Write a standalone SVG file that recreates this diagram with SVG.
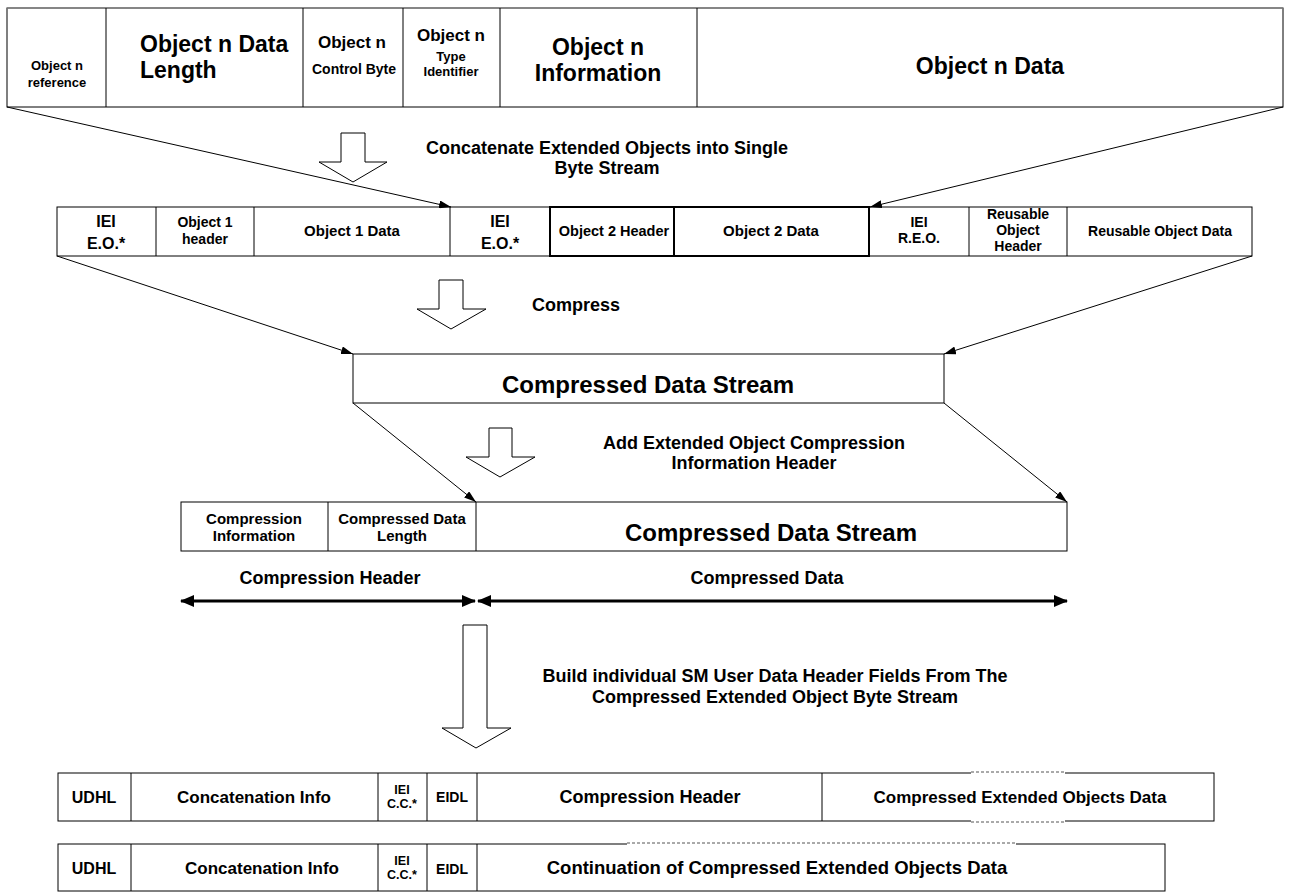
<svg xmlns="http://www.w3.org/2000/svg" width="1289" height="893" viewBox="0 0 1289 893">
<style>
text{font-family:"Liberation Sans",Arial,sans-serif;font-weight:bold;fill:#000;text-anchor:middle}
.st{text-anchor:start}
.box{fill:#fff;stroke:#000;stroke-width:1}
.thick{fill:none;stroke:#000;stroke-width:2}
.div{stroke:#000;stroke-width:1}
.conn{stroke:#000;stroke-width:1;fill:none}
.dbl{stroke:#000;stroke-width:3;fill:none}
.blk{fill:#fff;stroke:#000;stroke-width:1}
.dash{stroke:#555;stroke-width:1;stroke-dasharray:3 2;fill:none}
.wh{stroke:#fff;stroke-width:3}
</style>
<defs>
<marker id="ah" viewBox="0 0 12 8" refX="12" refY="4" markerWidth="12" markerHeight="8" markerUnits="userSpaceOnUse" orient="auto">
<path d="M0,0 L12,4 L0,8 Z" fill="#000"/>
</marker>
<marker id="dh" viewBox="0 0 14 12" refX="13" refY="6" markerWidth="14" markerHeight="12" markerUnits="userSpaceOnUse" orient="auto-start-reverse">
<path d="M0,0 L14,6 L0,12 Z" fill="#000"/>
</marker>
</defs>

<g id="object-n">
<rect class="box" x="7" y="8" width="1276" height="99"/>
<line x1="7" y1="8" x2="1283" y2="8" stroke="#888" stroke-width="1.5"/>
<line class="div" x1="106" y1="8" x2="106" y2="107"/>
<line class="div" x1="303" y1="8" x2="303" y2="107"/>
<line class="div" x1="403" y1="8" x2="403" y2="107"/>
<line class="div" x1="500" y1="8" x2="500" y2="107"/>
<line class="div" x1="697" y1="8" x2="697" y2="107"/>
<text x="57" y="70" font-size="13">Object  n</text>
<text x="57" y="87" font-size="13">reference</text>
<text class="st" x="140" y="52" font-size="23">Object n Data</text>
<text class="st" x="140" y="78" font-size="23">Length</text>
<text x="352" y="48" font-size="17">Object n</text>
<text x="354" y="74" font-size="14">Control Byte</text>
<text x="451" y="41" font-size="17">Object n</text>
<text x="451" y="61" font-size="13">Type</text>
<text x="451" y="76" font-size="13">Identifier</text>
<text x="598" y="55" font-size="23">Object  n</text>
<text x="598" y="81" font-size="23">Information</text>
<text x="990" y="74" font-size="23">Object n Data</text>
</g>

<g id="label-concatenate">
<text x="607" y="154" font-size="18">Concatenate Extended Objects into Single</text>
<text x="607" y="174" font-size="18">Byte Stream</text>
</g>
<g id="arrow-concatenate">
<path class="blk" d="M341,133 L365,133 L365,162 L387,162 L353,182 L319,162 L341,162 Z"/>
</g>

<g id="byte-stream">
<rect class="box" x="57" y="207" width="1195" height="49"/>
<line class="div" x1="156" y1="207" x2="156" y2="256"/>
<line class="div" x1="254" y1="207" x2="254" y2="256"/>
<line class="div" x1="450" y1="207" x2="450" y2="256"/>
<line class="div" x1="969" y1="207" x2="969" y2="256"/>
<line class="div" x1="1067" y1="207" x2="1067" y2="256"/>
<rect class="thick" x="550" y="207" width="319" height="49"/>
<line class="thick" x1="674" y1="207" x2="674" y2="256"/>
<text x="106" y="227" font-size="16">IEI</text>
<text x="106" y="249" font-size="16">E.O.*</text>
<text x="205" y="227" font-size="14">Object 1</text>
<text x="205" y="244" font-size="14">header</text>
<text x="352" y="236" font-size="15">Object 1 Data</text>
<text x="500" y="227" font-size="16">IEI</text>
<text x="500" y="249" font-size="16">E.O.*</text>
<text x="614" y="236" font-size="14.5">Object 2 Header</text>
<text x="771" y="236" font-size="15">Object 2 Data</text>
<text x="919" y="227" font-size="14">IEI</text>
<text x="919" y="243" font-size="14">R.E.O.</text>
<text x="1018" y="219" font-size="14">Reusable</text>
<text x="1018" y="235" font-size="14">Object</text>
<text x="1018" y="251" font-size="14">Header</text>
<text x="1160" y="236" font-size="14">Reusable Object Data</text>
</g>

<g id="label-compress">
<text x="576" y="311" font-size="18">Compress</text>
</g>
<g id="arrow-compress">
<path class="blk" d="M439,280 L463,280 L463,309 L486,309 L451,329 L417,309 L439,309 Z"/>
</g>

<g id="compressed-stream">
<rect class="box" x="353" y="354" width="591" height="49"/>
<text x="648" y="393" font-size="24">Compressed Data Stream</text>
</g>

<g id="label-add-header">
<text x="754" y="449" font-size="18">Add Extended Object Compression</text>
<text x="754" y="469" font-size="18">Information Header</text>
</g>
<g id="arrow-add-header">
<path class="blk" d="M489,428 L512,428 L512,457 L535,457 L500,477 L466,457 L489,457 Z"/>
</g>

<g id="compressed-with-header">
<rect class="box" x="181" y="502" width="886" height="49"/>
<line class="div" x1="328" y1="502" x2="328" y2="551"/>
<line class="div" x1="476" y1="502" x2="476" y2="551"/>
<text x="254" y="524" font-size="15">Compression</text>
<text x="254" y="541" font-size="15">Information</text>
<text x="402" y="524" font-size="15">Compressed Data</text>
<text x="402" y="541" font-size="15">Length</text>
<text x="771" y="541" font-size="24">Compressed Data Stream</text>
</g>

<g id="span-labels">
<text x="330" y="584" font-size="18">Compression Header</text>
<text x="767" y="584" font-size="18">Compressed Data</text>
</g>

<g id="label-build">
<text x="775" y="682" font-size="18">Build individual SM User Data Header Fields From The</text>
<text x="775" y="703" font-size="18">Compressed Extended Object Byte Stream</text>
</g>
<g id="arrow-build">
<path class="blk" d="M463,625 L487,625 L487,728 L511,728 L476,748 L442,728 L463,728 Z"/>
</g>

<g id="sm-row-1">
<rect class="box" x="58" y="773" width="1156" height="48"/>
<line class="wh" x1="971" y1="773" x2="1065" y2="773"/>
<line class="wh" x1="971" y1="821" x2="1065" y2="821"/>
<line class="dash" x1="971" y1="772" x2="1065" y2="772"/>
<line class="dash" x1="971" y1="822" x2="1065" y2="822"/>
<line class="div" x1="131" y1="773" x2="131" y2="821"/>
<line class="div" x1="378" y1="773" x2="378" y2="821"/>
<line class="div" x1="427" y1="773" x2="427" y2="821"/>
<line class="div" x1="477" y1="773" x2="477" y2="821"/>
<line class="div" x1="822" y1="773" x2="822" y2="821"/>
<text x="94" y="803" font-size="16">UDHL</text>
<text x="254" y="803" font-size="17">Concatenation Info</text>
<text x="402" y="794" font-size="12.5">IEI</text>
<text x="402" y="808" font-size="12.5">C.C.*</text>
<text x="452" y="802" font-size="14">EIDL</text>
<text x="650" y="803" font-size="18">Compression Header</text>
<text x="1020" y="803" font-size="17">Compressed Extended Objects Data</text>
</g>

<g id="sm-row-2">
<rect class="box" x="58" y="844" width="1107" height="47"/>
<line class="wh" x1="627" y1="844" x2="1016" y2="844"/>
<line class="dash" x1="627" y1="843" x2="1016" y2="843"/>
<line class="div" x1="131" y1="844" x2="131" y2="891"/>
<line class="div" x1="378" y1="844" x2="378" y2="891"/>
<line class="div" x1="427" y1="844" x2="427" y2="891"/>
<line class="div" x1="477" y1="844" x2="477" y2="891"/>
<text x="94" y="874" font-size="16">UDHL</text>
<text x="262" y="874" font-size="17">Concatenation Info</text>
<text x="402" y="865" font-size="12.5">IEI</text>
<text x="402" y="879" font-size="12.5">C.C.*</text>
<text x="452" y="874" font-size="14">EIDL</text>
<text x="777" y="874" font-size="18.5">Continuation of Compressed Extended Objects Data</text>
</g>

<g id="connectors">
<line class="conn" x1="7" y1="107" x2="451" y2="207" marker-end="url(#ah)"/>
<line class="conn" x1="1283" y1="107" x2="870" y2="207" marker-end="url(#ah)"/>
<line class="conn" x1="57" y1="256" x2="353" y2="354" marker-end="url(#ah)"/>
<line class="conn" x1="1252" y1="256" x2="944" y2="354" marker-end="url(#ah)"/>
<line class="conn" x1="353" y1="403" x2="476" y2="502" marker-end="url(#ah)"/>
<line class="conn" x1="944" y1="403" x2="1067" y2="502" marker-end="url(#ah)"/>
<line class="dbl" x1="181" y1="601" x2="475" y2="601" marker-start="url(#dh)" marker-end="url(#dh)"/>
<line class="dbl" x1="478" y1="601" x2="1067" y2="601" marker-start="url(#dh)" marker-end="url(#dh)"/>
</g>
</svg>
